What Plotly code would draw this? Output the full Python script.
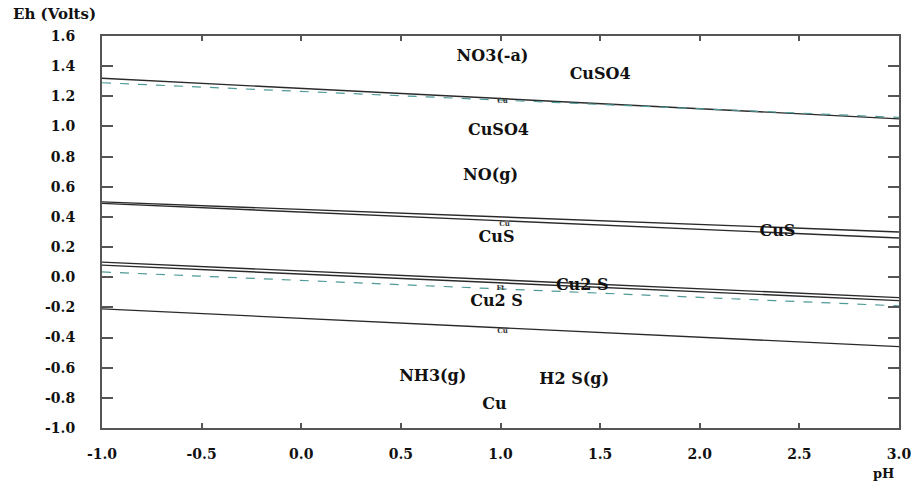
import plotly.graph_objects as go

# ---- data ----
ph_ends = [-1.0, 3.0]

# solid boundary lines (Eh at pH -1 and pH 3)
solid_lines = {
    "top": [1.32, 1.05],
    "cus_a": [0.50, 0.30],
    "cus_b": [0.49, 0.26],
    "cu2s_a": [0.10, -0.135],
    "cu2s_b": [0.08, -0.155],
    "bottom": [-0.21, -0.46],
}
# dashed water-stability lines
dashed_lines = {
    "o2": [1.29, 1.06],
    "h2": [0.035, -0.19],
}

label_text = ["NO3(-a)", "CuSO4", "CuSO4", "NO(g)", "CuS", "CuS",
              "Cu2 S", "Cu2 S", "NH3(g)", "H2 S(g)", "Cu"]
label_ph = [0.96, 1.50, 0.99, 0.95, 0.98, 2.39, 1.41, 0.98, 0.66, 1.37, 0.97]
label_eh = [1.46, 1.34, 0.97, 0.67, 0.26, 0.30, -0.06, -0.165, -0.665, -0.68, -0.85]

small_text = ["Cu", "Cu", "Ft", "Cu"]
small_ph = [1.01, 1.02, 1.0, 1.01]
small_eh = [1.17, 0.35, -0.07, -0.355]

x_ticks = [-1.0, -0.5, 0.0, 0.5, 1.0, 1.5, 2.0, 2.5, 3.0]
y_ticks = [-1.0, -0.8, -0.6, -0.4, -0.2, 0.0, 0.2, 0.4, 0.6, 0.8, 1.0, 1.2, 1.4, 1.6]

FONT = "DejaVu Serif"

fig = go.Figure()
for name, vals in solid_lines.items():
    fig.add_trace(go.Scatter(x=ph_ends, y=vals, mode="lines",
                             line=dict(color="#2a2a2a", width=1.4),
                             showlegend=False, hoverinfo="skip"))
for name, vals in dashed_lines.items():
    fig.add_trace(go.Scatter(x=ph_ends, y=vals, mode="lines",
                             line=dict(color="#4f9a98", width=1.2, dash="dash"),
                             showlegend=False, hoverinfo="skip"))

fig.add_trace(go.Scatter(x=label_ph, y=label_eh, mode="text", text=label_text,
                         textfont=dict(family=FONT, size=16, color="#111", weight="bold"),
                         showlegend=False, hoverinfo="skip"))
fig.add_trace(go.Scatter(x=small_ph, y=small_eh, mode="text", text=small_text,
                         textfont=dict(family=FONT, size=7, color="#333", weight="bold"),
                         showlegend=False, hoverinfo="skip"))

axis_common = dict(showgrid=False, zeroline=False, showline=True,
                   linecolor="#555", linewidth=2, mirror="ticks",
                   ticks="inside", tickcolor="#555", tickwidth=1.5,
                   tickfont=dict(family=FONT, size=14, color="#111", weight="bold"))

fig.update_xaxes(range=[-1.0, 3.0], tickvals=x_ticks,
                 ticktext=[f"{v:.1f}" for v in x_ticks],
                 ticklen=5, ticklabelstandoff=12, **axis_common)
fig.update_yaxes(range=[-1.0, 1.6], tickvals=y_ticks,
                 ticktext=[f"{v:.1f}" for v in y_ticks],
                 ticklen=11, ticklabelstandoff=22, **axis_common)

fig.add_annotation(text="Eh (Volts)", xref="paper", yref="paper",
                   x=-0.114, y=1.056, xanchor="left", yanchor="middle",
                   showarrow=False,
                   font=dict(family=FONT, size=15, color="#111", weight="bold"))
fig.add_annotation(text="pH", xref="paper", yref="paper",
                   x=0.98, y=-0.115, xanchor="center", yanchor="middle",
                   showarrow=False,
                   font=dict(family=FONT, size=13, color="#111", weight="bold"))

fig.update_layout(width=923, height=482,
                  margin=dict(l=102, r=14, t=36, b=54),
                  paper_bgcolor="white", plot_bgcolor="white")

fig.write_html("out.html",
               config={"displayModeBar": False},
               post_script="document.body.style.margin='0';document.body.style.overflow='hidden';")
